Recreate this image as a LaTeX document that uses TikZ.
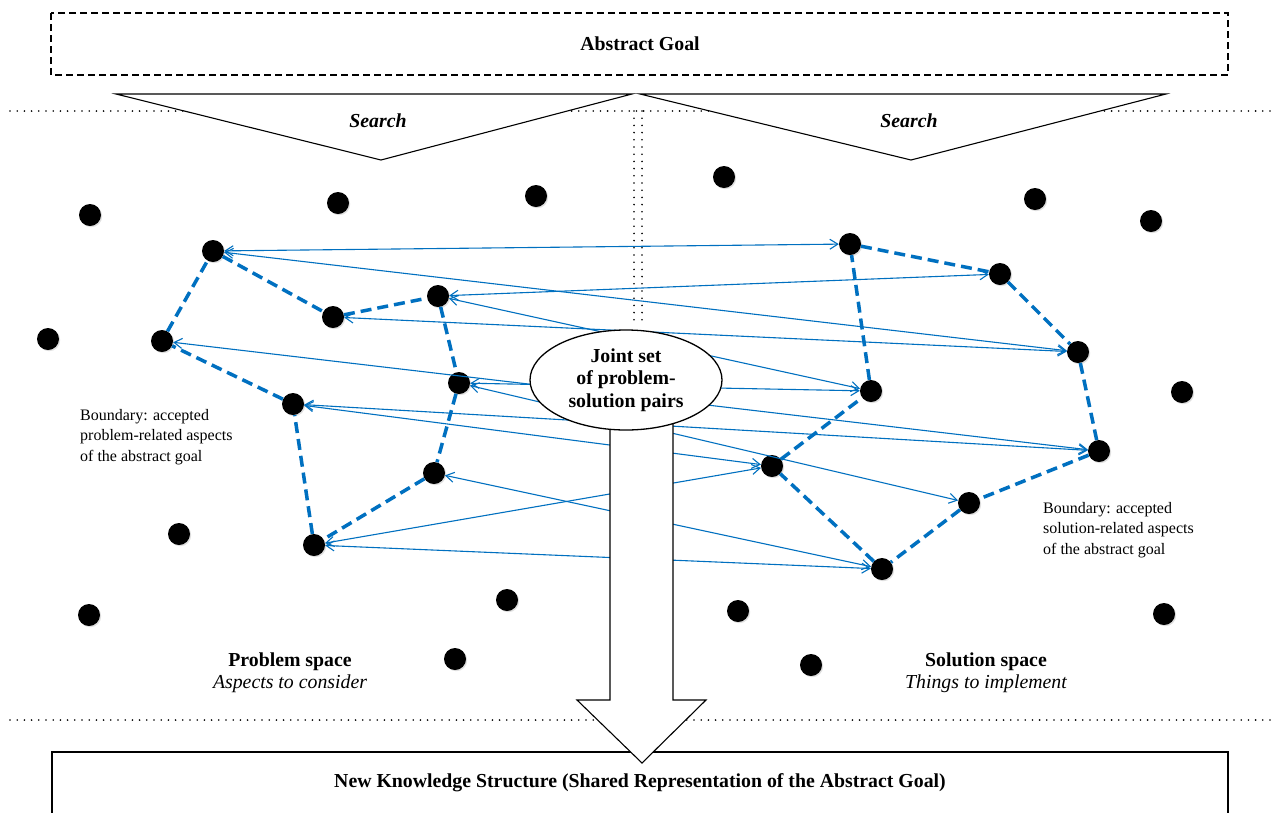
\documentclass[tikz,border=0pt]{standalone}
\usepackage{fontspec}
\setmainfont{Liberation Serif}
\usetikzlibrary{arrows.meta,shadows,shapes.geometric}
\definecolor{lblue}{RGB}{0,112,192}
\begin{document}
\begin{tikzpicture}[x=1pt,y=-1pt,
  dot/.style={circle,fill=black,inner sep=0pt,minimum size=22pt,
    drop shadow={shadow xshift=1.2pt,shadow yshift=-1.2pt,opacity=0.25}},
  bdry/.style={draw=lblue,line width=3.5pt,dash pattern=on 11pt off 6pt},
  link/.style={draw=lblue,line width=1.1pt,
    {Straight Barb[length=8pt,width=10pt,line width=1.1pt]}-{Straight Barb[length=8pt,width=10pt,line width=1.1pt]}},
  dotline/.style={line width=1.8pt,line cap=round,dash pattern=on 0pt off 7.2pt},
  thinbox/.style={line width=1.1pt},
  btext/.style={font=\fontsize{19.8}{22.5}\selectfont\bfseries,align=center,inner sep=0pt},
  itext/.style={font=\fontsize{19.8}{22.5}\selectfont\itshape,align=center,inner sep=0pt},
  stext/.style={font=\fontsize{16}{20.5}\selectfont,align=left,inner sep=0pt,anchor=north west}
]
\useasboundingbox (0,0) rectangle (1276,812);
\fill[white] (0,0) rectangle (1276,812);

% dotted separators
\draw[dotline] (10,111) -- (1276,111);
\draw[dotline] (10,720) -- (1276,720);
\draw[dotline] (634,111) -- (634,325);
\draw[dotline] (642,111) -- (642,325);

% top box
\draw[thinbox,dash pattern=on 7pt off 4pt] (51,13) rectangle (1228,75);
\node[btext] (ag) at (640,44) {Abstract Goal};

% search triangles
\draw[thinbox,fill=white] (116,94) -- (632,94) -- (381,160) -- cycle;
\draw[thinbox,fill=white] (640,94) -- (1166,94) -- (911,160) -- cycle;
\node[font=\fontsize{19.8}{22.5}\selectfont\bfseries\itshape,inner sep=0pt] (s1) at (378,121) {Search};
\node[font=\fontsize{19.8}{22.5}\selectfont\bfseries\itshape,inner sep=0pt] (s2) at (909,121) {Search};

% free dots
\foreach \n/\x/\y in {f1/90/215,f2/338/203,f3/536/196,f4/724/177,f5/1035/199,f6/1151/221,
  f7/48/339,f8/1182/392,f9/179/534,f10/89/615,f11/507/600,f12/455/659,f13/738/611,f14/811/665,f15/1164/614}
  \node[dot] (\n) at (\x,\y) {};

% problem-space dots
\node[dot] (L1) at (213,251) {};
\node[dot] (L2) at (333,317) {};
\node[dot] (L3) at (438,296) {};
\node[dot] (L4) at (162,341) {};
\node[dot] (L5) at (459,383) {};
\node[dot] (L6) at (293,404) {};
\node[dot] (L7) at (434,473) {};
\node[dot] (L8) at (314,545) {};
% solution-space dots
\node[dot] (R1) at (850,244) {};
\node[dot] (R2) at (1000,274) {};
\node[dot] (R3) at (1078,352) {};
\node[dot] (R4) at (871,391) {};
\node[dot] (R5) at (1099,451) {};
\node[dot] (R6) at (772,466) {};
\node[dot] (R7) at (969,503) {};
\node[dot] (R8) at (882,569) {};

% boundaries
\draw[bdry] (L1) -- (L2) -- (L3) -- (L5) -- (L7) -- (L8) -- (L6) -- (L4) -- (L1);
\draw[bdry] (R1) -- (R2) -- (R3) -- (R5) -- (R7) -- (R8) -- (R6) -- (R4) -- (R1);

% links
\foreach \a/\b in {L1/R1,L1/R3,L2/R3,L3/R2,L3/R4,L4/R5,L5/R4,L5/R7,L6/R5,L6/R6,L7/R8,L8/R6,L8/R8}
  \draw[link] (\a) -- (\b);

% bottom box
\draw[thinbox] (52,752) rectangle (1228,840);
\node[btext] (nks) at (640,783) {New Knowledge Structure (Shared Representation of the Abstract Goal)};

% big arrow
\draw[thinbox,fill=white] (610,380) -- (610,700) -- (577,700) -- (642,763) -- (706,700) -- (673,700) -- (673,380);

% ellipse
\node[draw,ellipse,fill=white,line width=1.3pt,minimum width=192pt,minimum height=100pt,
  inner sep=0pt,font=\fontsize{19.8}{22.5}\selectfont\bfseries,align=center] (joint) at (626,380)
  {Joint set\\of problem-\\solution pairs};

% labels
\node[stext] (bl) at (80,409) {Boundary: accepted\\problem-related aspects\\of the abstract goal};
\node[stext] (br) at (1043,502) {Boundary: accepted\\solution-related aspects\\of the abstract goal};
\node[btext] (ps) at (290,662) {Problem space};
\node[itext] (pa) at (290,684) {Aspects to consider};
\node[btext] (ss) at (986,662) {Solution space};
\node[itext] (sa) at (986,684) {Things to implement};
\end{tikzpicture}
\end{document}
